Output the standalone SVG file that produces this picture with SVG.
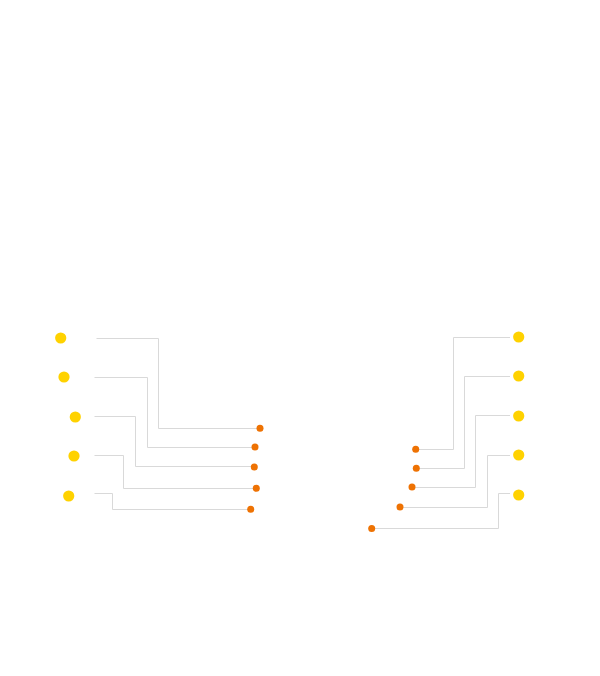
<svg xmlns="http://www.w3.org/2000/svg" width="600" height="676" viewBox="0 0 600 676">
<style>
.big{fill:#FFD200}
.small{fill:#EE7203}
.link{fill:none;stroke:#d9d9d9;stroke-width:1}
</style>
<rect width="600" height="676" fill="#fff"/>
<g id="connectors">
<path class="link" d="M96.5 338.5H158.5V428.5H260"/>
<path class="link" d="M94.5 377.5H147.5V447.5H255"/>
<path class="link" d="M94.5 416.5H135.5V466.5H254"/>
<path class="link" d="M94.5 455.5H123.5V488.5H256"/>
<path class="link" d="M94.5 493.5H112.5V509.5H251"/>
<path class="link" d="M510 337.5H453.5V449.5H416"/>
<path class="link" d="M510 376.5H464.5V468.5H416"/>
<path class="link" d="M510 415.5H475.5V487.5H412"/>
<path class="link" d="M510 455.5H487.5V507.5H400"/>
<path class="link" d="M510 493.5H498.5V528.5H372"/>
</g>
<g id="L1"><circle class="big" cx="60.7" cy="338" r="5.6"/></g>
<g id="L2"><circle class="big" cx="64" cy="377" r="5.6"/></g>
<g id="L3"><circle class="big" cx="75.3" cy="417" r="5.6"/></g>
<g id="L4"><circle class="big" cx="74" cy="456" r="5.6"/></g>
<g id="L5"><circle class="big" cx="68.7" cy="496" r="5.6"/></g>
<g id="R1"><circle class="big" cx="518.7" cy="337" r="5.6"/></g>
<g id="R2"><circle class="big" cx="518.7" cy="376" r="5.6"/></g>
<g id="R3"><circle class="big" cx="518.7" cy="416" r="5.6"/></g>
<g id="R4"><circle class="big" cx="518.7" cy="455" r="5.6"/></g>
<g id="R5"><circle class="big" cx="518.7" cy="495" r="5.6"/></g>
<g id="l1"><circle class="small" cx="260" cy="428.3" r="3.5"/></g>
<g id="l2"><circle class="small" cx="255" cy="447" r="3.5"/></g>
<g id="l3"><circle class="small" cx="254.3" cy="467" r="3.5"/></g>
<g id="l4"><circle class="small" cx="256.3" cy="488.3" r="3.5"/></g>
<g id="l5"><circle class="small" cx="250.7" cy="509.3" r="3.5"/></g>
<g id="r1"><circle class="small" cx="415.7" cy="449.3" r="3.5"/></g>
<g id="r2"><circle class="small" cx="416.3" cy="468.3" r="3.5"/></g>
<g id="r3"><circle class="small" cx="412" cy="487" r="3.5"/></g>
<g id="r4"><circle class="small" cx="400" cy="507" r="3.5"/></g>
<g id="r5"><circle class="small" cx="371.7" cy="528.5" r="3.5"/></g>
</svg>
